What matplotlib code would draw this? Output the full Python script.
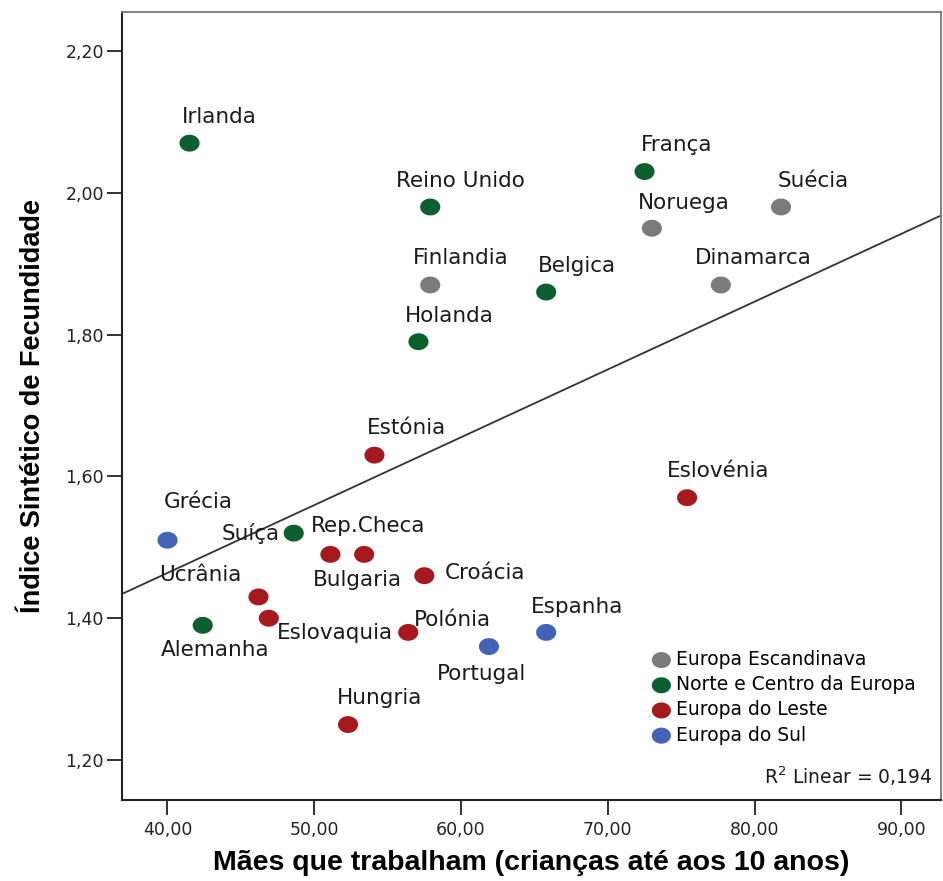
import numpy as np
import matplotlib
matplotlib.use("Agg")
from matplotlib import pyplot as plt
from matplotlib.path import Path

# --- data ---
countries = ["Irlanda", "França", "Reino Unido", "Suécia", "Noruega", "Finlandia",
             "Dinamarca", "Belgica", "Holanda", "Estónia", "Eslovénia", "Grécia",
             "Suíça", "Rep.Checa", "Bulgaria", "Croácia", "Ucrânia", "Eslovaquia",
             "Polónia", "Alemanha", "Portugal", "Espanha", "Hungria"]
maes = [41.5, 72.5, 57.9, 81.8, 73.0, 57.9,
        77.7, 65.8, 57.1, 54.1, 75.4, 40.0,
        48.6, 51.1, 53.4, 57.5, 46.2, 46.9,
        56.4, 42.4, 61.9, 65.8, 52.3]
isf = [2.07, 2.03, 1.98, 1.98, 1.95, 1.87,
       1.87, 1.86, 1.79, 1.63, 1.57, 1.51,
       1.52, 1.49, 1.49, 1.46, 1.43, 1.40,
       1.38, 1.39, 1.36, 1.38, 1.25]
regiao = ["N", "N", "N", "E", "E", "E",
          "E", "N", "N", "L", "L", "S",
          "N", "L", "L", "L", "L", "L",
          "L", "N", "S", "S", "L"]
grupos = ["E", "N", "L", "S"]
grupo_nomes = ["Europa Escandinava", "Norte e Centro da Europa",
               "Europa do Leste", "Europa do Sul"]
r2_txt = "0,194"
x_ticks = [40, 50, 60, 70, 80, 90]
y_ticks = [1.2, 1.4, 1.6, 1.8, 2.0, 2.2]

# --- styles ---
cores = {"E": "#7b7b7b", "N": "#0d5f2f", "L": "#a5191f", "S": "#4263b8"}
# label offsets in pixels (dx, dy, horizontal alignment)
offsets = {
    "Irlanda": (30, 26, "center"), "França": (32, 27, "center"),
    "Reino Unido": (30, 26, "center"), "Suécia": (32, 26, "center"),
    "Noruega": (32, 25, "center"), "Finlandia": (31, 27, "center"),
    "Dinamarca": (32, 27, "center"), "Belgica": (31, 26, "center"),
    "Holanda": (31, 26, "center"), "Estónia": (32, 27, "center"),
    "Eslovénia": (31, 27, "center"), "Grécia": (31, 38, "center"),
    "Suíça": (-14, 0, "right"), "Rep.Checa": (38, 28, "center"),
    "Bulgaria": (-7, -26, "center"), "Croácia": (20, 3, "left"),
    "Ucrânia": (-58, 22, "center"), "Eslovaquia": (66, -15, "center"),
    "Polónia": (6, 12, "left"), "Alemanha": (12, -25, "center"),
    "Portugal": (-7, -27, "center"), "Espanha": (31, 25, "center"),
    "Hungria": (32, 27, "center"),
}

# slightly flattened dot, like the SPSS markers
t = np.linspace(0, 2 * np.pi, 40)
ellipse = Path(np.column_stack([np.cos(t), 0.84 * np.sin(t)]), closed=True)

plt.rcParams["font.family"] = ["DejaVu Sans"]

fig = plt.figure(figsize=(9.43, 8.81), dpi=100)
ax = fig.add_axes([122 / 943, 1 - 800 / 881, (941 - 122) / 943, (800 - 12) / 881])

x = np.array(maes)
y = np.array(isf)

# fit line over the full x range
slope, inter = np.polyfit(x, y, 1)
xl = np.array([36.9, 92.7])
ax.plot(xl, inter + slope * xl, color="#333333", lw=1.3, zorder=1)

for g, nome in zip(grupos, grupo_nomes):
    sel = [i for i, r in enumerate(regiao) if r == g]
    ax.scatter(x[sel], y[sel], s=210, color=cores[g], edgecolors="none",
               label=nome, zorder=3, marker=ellipse)

for i, c in enumerate(countries):
    dx, dy, ha = offsets[c]
    ax.annotate(c, (x[i], y[i]), xytext=(dx, dy), textcoords="offset pixels",
                ha=ha, va="center", fontsize=15.5, color="#1a1a1a")

ax.set_xlim(36.9, 92.7)
ax.set_ylim(1.1436, 2.255)
ax.set_xticks(x_ticks)
ax.set_yticks(y_ticks)
ax.set_xticklabels([f"{v:.2f}".replace(".", ",") for v in x_ticks], fontsize=12.5, color="#222222")
ax.set_yticklabels([f"{v:.2f}".replace(".", ",") for v in y_ticks], fontsize=12.5, color="#222222")
ax.tick_params(direction="out", length=11, width=1.3, color="#222222", pad=2)
ax.tick_params(axis="x", pad=4)

for s in ["left", "bottom"]:
    ax.spines[s].set_color("#222222")
    ax.spines[s].set_linewidth(1.5)
for s in ["top", "right"]:
    ax.spines[s].set_color("#777777")
    ax.spines[s].set_linewidth(1.3)

ax.set_xlabel("Mães que trabalham (crianças até aos 10 anos)", labelpad=8,
              fontsize=20.5, fontweight="bold", family="Liberation Sans")
ax.set_ylabel("Índice Sintético de Fecundidade", labelpad=14,
              fontsize=19.5, fontweight="bold", family="Liberation Sans")

leg = ax.legend(loc="upper left", bbox_to_anchor=((652 - 122) / 819, 1 - (650 - 12) / 788),
                frameon=False, fontsize=13.5, handletextpad=0.3, borderpad=0,
                borderaxespad=0, labelspacing=0.33, handlelength=1.0, markerscale=0.95)
ax.text(0.99, 0.015, "R$^2$ Linear = " + r2_txt, transform=ax.transAxes,
        ha="right", va="bottom", fontsize=13.5, color="#1a1a1a")

fig.savefig("out.png", dpi=100)
